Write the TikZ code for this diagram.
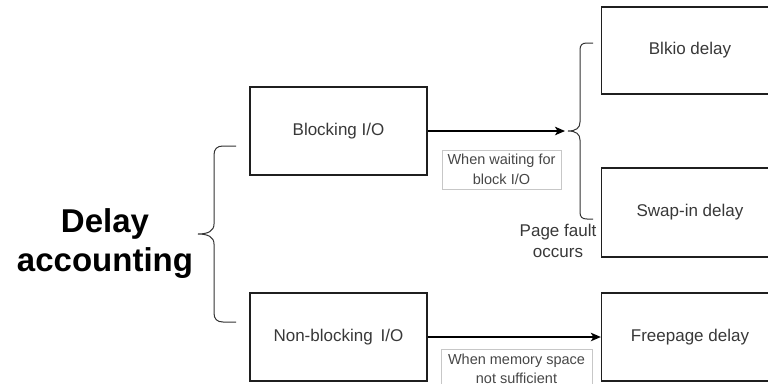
\documentclass[tikz,border=0pt]{standalone}
\usepackage{fontspec}
\setmainfont{Liberation Sans}
\usetikzlibrary{arrows.meta}

\begin{document}
\begin{tikzpicture}[x=1pt,y=-1pt,
  box/.style={draw=black!88, line width=1.3pt, minimum width=177pt,
    minimum height=88pt, inner sep=0pt,
    font=\fontsize{17}{20}\selectfont, text=black!78},
  edgelabel/.style={draw=black!22, line width=0.6pt, fill=white, align=center,
    inner sep=0pt, font=\fontsize{14.5}{19.5}\selectfont, text=black!72},
  note/.style={align=center, inner sep=0pt,
    font=\fontsize{17}{21.5}\selectfont, text=black!78},
  title/.style={align=center, inner sep=0pt,
    font=\fontsize{33}{39}\selectfont\bfseries, text=black},
  brace/.style={draw=black!80, line width=1pt},
  flow/.style={draw=black, line width=1.3pt,
    -{Stealth[length=10pt,width=8.5pt,inset=2.5pt]}}
]
\useasboundingbox (0,0) rectangle (768,383);
\clip (0,0) rectangle (768,383);

% title
\node[title] (title) at (105,244) {Delay\\accounting};

% left column
\node[box] (blk)  at (338.5,131) {Blocking I/O};
\node[box] (nblk) at (338.5,337) {Non-blocking\hspace{8pt}I/O};

% right column
\node[box, minimum height=87pt] (blkio) at (690,50.5) {Blkio delay};
\node[box, minimum height=89pt] (swap)  at (690,212.5) {Swap-in delay};
\node[box] (free)  at (690,337) {Freepage delay};

% brace grouping the two kinds of I/O
\draw[brace] (236,146) -- (223,146)
  .. controls (217,146) and (214,149) .. (214,155) -- (214,224)
  .. controls (214,231) and (208,234) .. (198,234)
  .. controls (208,234) and (214,237) .. (214,244) -- (214,313)
  .. controls (214,319) and (217,322) .. (223,322) -- (236,322);

% brace grouping the blocking delays
\draw[brace] (593,43) -- (587,43)
  .. controls (582,43) and (580,45) .. (580,50) -- (580,122)
  .. controls (580,128) and (576,131) .. (568,131)
  .. controls (576,131) and (580,134) .. (580,140) -- (580,212)
  .. controls (580,217) and (582,219) .. (587,219) -- (593,219);
\coordinate (tip) at (565,131);

% connectors
\draw[flow] (blk.east) -- (tip);
\draw[flow] (nblk.east) -- (free.west);

% labels
\node[edgelabel, minimum width=119pt, minimum height=39pt] (lbl1)
  at (501.5,169.5) {When waiting for\\block I/O};
\node[edgelabel, minimum width=151pt, minimum height=40pt] (lbl2)
  at (516.5,369) {When memory space\\not sufficient};
\node[note] (pf) at (558,241) {Page fault\\occurs};
\end{tikzpicture}
\end{document}
